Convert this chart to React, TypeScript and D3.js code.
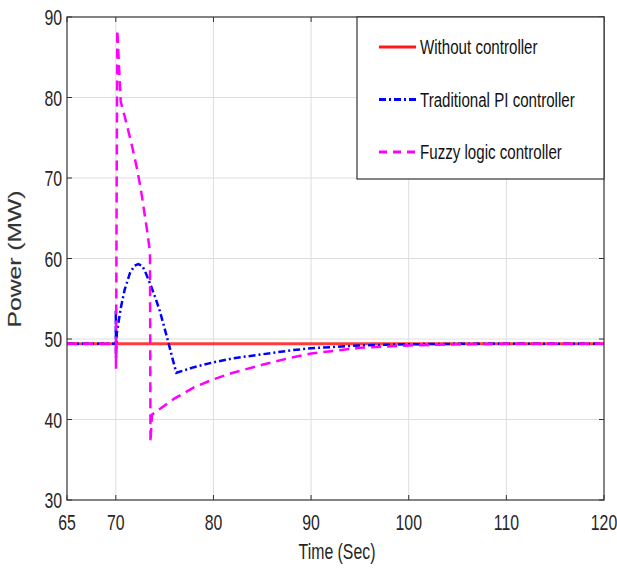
import React, { useEffect, useRef } from "react";
import * as d3 from "d3";

// series data
const redT = [65, 120];
const redV = [49.4, 49.4];

const piT = [65, 70, 70, 70.02, 70.1, 70.5, 70.9, 71.45, 71.9, 72.3, 72.7, 73, 73.5, 74, 74.5, 75, 75.4, 75.8, 76.2, 78, 80, 82, 85, 88, 90, 95, 100, 105, 120];
const piV = [49.4, 49.4, 53.6, 47.7, 50.7, 53.8, 56.1, 58.2, 59.1, 59.3, 59.1, 58.4, 56.9, 55.3, 53.5, 51.3, 49.5, 47.6, 45.8, 46.5, 47.1, 47.6, 48.1, 48.6, 48.85, 49.2, 49.35, 49.4, 49.4];

const fuzzyT = [65, 70, 70.02, 70.15, 70.5, 70.9, 71.6, 72.2, 72.6, 73.2, 73.5, 73.55, 73.7, 74.5, 76, 78, 80, 82, 85, 88, 90, 95, 100, 105, 110, 120];
const fuzzyV = [49.4, 49.4, 46.3, 88.4, 79.5, 77.7, 74.3, 71, 68.3, 63.5, 60.8, 37.2, 40.6, 41.3, 42.6, 44.0, 45.0, 45.8, 46.8, 47.7, 48.2, 48.9, 49.2, 49.35, 49.4, 49.4];

const xTicks = [65, 70, 80, 90, 100, 110, 120];
const yTicks = [30, 40, 50, 60, 70, 80, 90];

const legendNames = ["Without controller", "Traditional PI controller", "Fuzzy logic controller"];

const App = () => {
  const ref = useRef<SVGSVGElement>(null);

  useEffect(() => {
    const svg = d3.select(ref.current);
    svg.selectAll("*").remove();

    const left = 67, right = 604, top = 17, bottom = 500;
    const x = d3.scaleLinear().domain([65, 120]).range([left, right]);
    const y = d3.scaleLinear().domain([30, 90]).range([bottom, top]);
    const font = "'Liberation Sans', Arial, sans-serif";

    // condensed text, like Arial Narrow
    const narrow = (g: any, tx: number, ty: number, s: string, anchor: string, size = 22) =>
      g.append("text").attr("transform", `translate(${tx},${ty}) scale(0.72,1)`)
        .attr("text-anchor", anchor).attr("font-family", font).attr("font-size", size)
        .attr("fill", "#262626").text(s);

    svg.append("rect").attr("x", left).attr("y", top)
      .attr("width", right - left).attr("height", bottom - top).attr("fill", "#fff");

    // grid
    const grid = svg.append("g").attr("stroke", "#dedede").attr("stroke-width", 1);
    xTicks.slice(1, -1).forEach(t => {
      grid.append("line").attr("x1", x(t)).attr("x2", x(t)).attr("y1", top).attr("y2", bottom);
    });
    yTicks.slice(1, -1).forEach(t => {
      grid.append("line").attr("x1", left).attr("x2", right).attr("y1", y(t)).attr("y2", y(t));
    });

    // ticks on all sides
    const tk = svg.append("g").attr("stroke", "#333").attr("stroke-width", 1);
    xTicks.forEach(t => {
      tk.append("line").attr("x1", x(t)).attr("x2", x(t)).attr("y1", bottom).attr("y2", bottom - 5);
      tk.append("line").attr("x1", x(t)).attr("x2", x(t)).attr("y1", top).attr("y2", top + 5);
    });
    yTicks.forEach(t => {
      tk.append("line").attr("x1", left).attr("x2", left + 5).attr("y1", y(t)).attr("y2", y(t));
      tk.append("line").attr("x1", right).attr("x2", right - 5).attr("y1", y(t)).attr("y2", y(t));
    });

    const line = (ts: number[], vs: number[]) =>
      d3.line<number>().x((_, i) => x(ts[i])).y(v => y(v))(vs);

    const clip = svg.append("clipPath").attr("id", "plotclip");
    clip.append("rect").attr("x", left).attr("y", top).attr("width", right - left).attr("height", bottom - top);
    const plot = svg.append("g").attr("clip-path", "url(#plotclip)");

    plot.append("path").attr("d", line(redT, redV)).attr("fill", "none")
      .attr("stroke", "#ff1a1a").attr("stroke-width", 3).attr("stroke-opacity", 0.85);
    plot.append("path").attr("d", line(piT, piV)).attr("fill", "none")
      .attr("stroke", "#0000ff").attr("stroke-width", 2.5).attr("stroke-dasharray", "7,3,2,3");
    plot.append("path").attr("d", line(fuzzyT, fuzzyV)).attr("fill", "none")
      .attr("stroke", "#ff00ff").attr("stroke-width", 2.5).attr("stroke-dasharray", "10,6");

    // box
    svg.append("rect").attr("x", left).attr("y", top)
      .attr("width", right - left).attr("height", bottom - top)
      .attr("fill", "none").attr("stroke", "#333").attr("stroke-width", 1.2);

    // tick labels
    xTicks.forEach(t => narrow(svg, x(t), 530, String(t), "middle"));
    yTicks.forEach(t => narrow(svg, left - 5, y(t) + 8, String(t), "end"));

    narrow(svg, 337, 559, "Time (Sec)", "middle", 22);
    svg.append("text").attr("transform", "translate(21,259) rotate(-90)").attr("text-anchor", "middle")
      .attr("font-family", font).attr("font-size", 19)
      .attr("stroke", "#333").attr("stroke-width", 0.15)
      .attr("textLength", 137).attr("lengthAdjust", "spacingAndGlyphs")
      .attr("fill", "#333").text("Power (MW)");

    // legend
    const lg = svg.append("g");
    lg.append("rect").attr("x", 357).attr("y", top).attr("width", right - 357).attr("height", 162)
      .attr("fill", "#fff").attr("stroke", "#333").attr("stroke-width", 1.2);
    const styles = [
      { c: "#ff1a1a", d: null },
      { c: "#0000ff", d: "7,3,2,3" },
      { c: "#ff00ff", d: "8,6" },
    ];
    legendNames.forEach((n, i) => {
      const ly = 47 + i * 52.5;
      const l = lg.append("line").attr("x1", 379).attr("x2", 416).attr("y1", ly).attr("y2", ly)
        .attr("stroke", styles[i].c).attr("stroke-width", 3);
      if (styles[i].d) l.attr("stroke-dasharray", styles[i].d);
      narrow(lg, 420, ly + 7, n, "start", 21).attr("fill", "#111");
    });
  }, []);

  return (
    <svg ref={ref} width={617} height={573}
      style={{ position: "absolute", left: 0, top: 0, background: "#fff" }} />
  );
};

export default App;
